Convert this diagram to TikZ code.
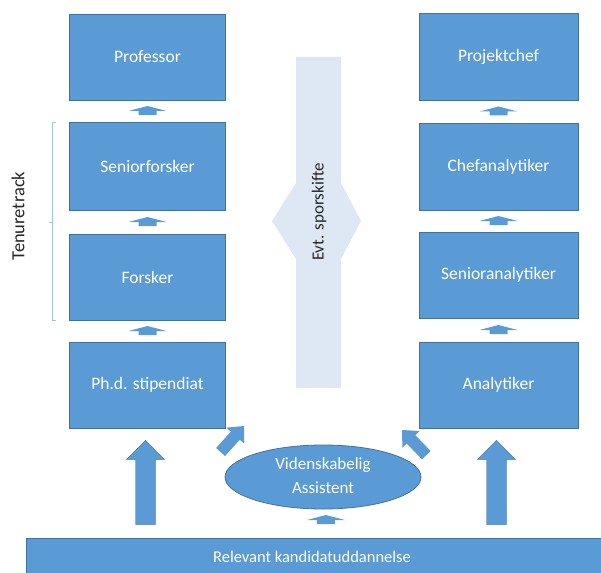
\documentclass[tikz,border=0pt]{standalone}
\usepackage{fontspec}
\setmainfont{Carlito}
\usetikzlibrary{calc}
\definecolor{boxblue}{HTML}{5B9BD5}
\definecolor{boxedge}{HTML}{41719C}
\definecolor{barblue}{HTML}{DDE8F4}
\definecolor{brk}{HTML}{9DC3E6}
\definecolor{txtdark}{HTML}{262626}
\tikzset{
  box/.style={rectangle, fill=boxblue, draw=boxedge, line width=0.8pt,
    minimum width=156pt, minimum height=86pt, text=white, font=\fontsize{17.5}{20}\selectfont},
  smallup/.pic={\fill[boxblue] (-19,3) -- (0,-2) -- (19,3) -- (9,3) -- (9,7) -- (-9,7) -- (-9,3) -- cycle;},
  bigup/.pic={\fill[boxblue, draw=boxedge, line width=0.4pt] (0,0) -- (19,19) -- (10,19) -- (10,84) -- (-10,84) -- (-10,19) -- (-19,19) -- cycle;},
  diagup/.pic={\fill[boxblue] (0,0) -- (12,13) -- (6,13) -- (6,35) -- (-6,35) -- (-6,13) -- (-12,13) -- cycle;},
}
\begin{document}
\begin{tikzpicture}[x=1pt,y=-1pt]
\useasboundingbox (0,0) rectangle (601,572);
% side-change bar
\fill[barblue] (296,57) -- (341,57) -- (341,183) -- (361,221) -- (341,259) -- (341,388)
  -- (296,388) -- (296,259) -- (272,221) -- (296,183) -- cycle;
\node[rotate=90, text=txtdark, font=\fontsize{17}{19}\selectfont] (evt) at (319,212) {Evt. sporskifte};
% left column
\node[box] (prof) at (147.5,57) {Professor};
\node[box, minimum height=88pt] (senf) at (147.5,166) {Seniorforsker};
\node[box] (forsk) at (147.5,277) {Forsker};
\node[box] (phd) at (147.5,385) {Ph.d. stipendiat};
% right column
\node[box, minimum width=159pt, minimum height=87pt] (proj) at (498.5,56.5) {Projektchef};
\node[box, minimum width=159pt, minimum height=87pt] (chef) at (498.5,166.5) {Chefanalytiker};
\node[box, minimum width=159pt] (sena) at (498.5,275) {Senioranalytiker};
\node[box, minimum width=159pt] (ana) at (498.5,385) {Analytiker};
% small arrows between boxes
\foreach \a/\b in {senf/prof, forsk/senf, phd/forsk, chef/proj, sena/chef, ana/sena}{
  \pic at ($(\a.north)!0.5!(\b.south)+(0,-3)$) {smallup};
}
% tenure track bracket
\draw[brk, line width=0.8pt] (56,122) -- (52,122) -- (52,320) -- (56,320);
\draw[brk, line width=0.8pt] (52,222) -- (49,222);
\node[rotate=90, text=txtdark, font=\fontsize{18.5}{20}\selectfont] (tt) at (18,216) {Tenuretrack};
% bottom bar
\node[rectangle, fill=boxblue, draw=boxedge, line width=0.8pt, anchor=north west,
  minimum width=577pt, minimum height=35pt, inner sep=0pt] (rel) at (26,538) {};
\node[text=white, font=\fontsize{16.5}{19}\selectfont] (reltext) at (312,557) {Relevant kandidatuddannelse};
% ellipse
\draw[fill=boxblue, draw=boxedge, line width=0.8pt] (323,477) ellipse [x radius=98, y radius=32];
\node[text=white, font=\fontsize{17}{24}\selectfont, align=center] (vid) at (323,476) {Videnskabelig\\Assistent};
% big arrows
\pic at ($(phd.south)+(-2,12)$) {bigup};
\pic at ($(ana.south)+(-2,12)$) {bigup};
% diagonal arrows
\pic[rotate=-42] at (244,426) {diagup};
\pic[rotate=44] at (402,430) {diagup};
% arrow under ellipse
\pic at ($(rel.north)+(11,-21)$) {smallup};
\end{tikzpicture}
\end{document}
